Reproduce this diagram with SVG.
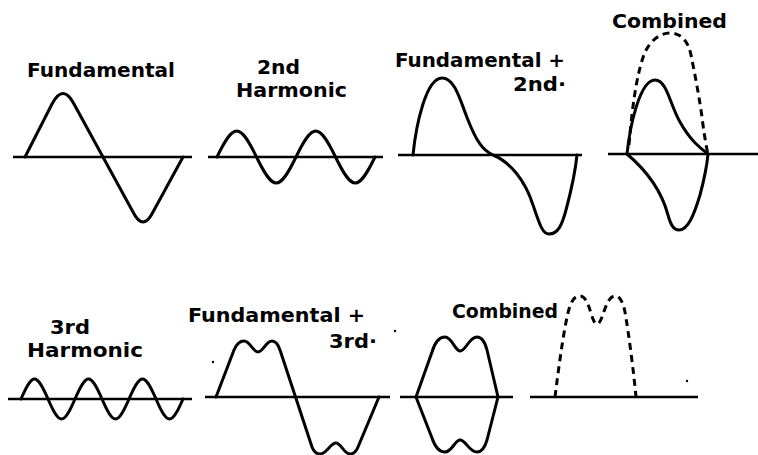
<svg xmlns="http://www.w3.org/2000/svg" width="758" height="455" viewBox="0 0 758 455">
<style>
.ax{stroke:#000;stroke-width:2.6;fill:none}
.w{stroke:#000;stroke-width:3;fill:none;stroke-linecap:round;stroke-linejoin:round}
.d{stroke:#000;stroke-width:3;fill:none;stroke-dasharray:7 5}
.t{font-family:"DejaVu Sans","Liberation Sans",sans-serif;font-weight:bold;font-size:19px;fill:#000}
</style>
<rect width="758" height="455" fill="#fff"/>
<g id="fundamental">
<text class="t" x="27" y="77" textLength="148" lengthAdjust="spacingAndGlyphs">Fundamental</text>
<line class="ax" x1="13" y1="157" x2="192" y2="157"/>
<path class="w" d="M25,157 L52,104 Q63,83 74,104 L133,212 Q143,232 153,212 L183,157"/>
</g>
<g id="second-harmonic">
<text class="t" x="257" y="74" textLength="43" lengthAdjust="spacingAndGlyphs">2nd</text>
<text class="t" x="236" y="97" textLength="111" lengthAdjust="spacingAndGlyphs">Harmonic</text>
<line class="ax" x1="208" y1="157" x2="383" y2="157"/>
<path class="w" d="M217,157 C233.8,122.3 239.7,122.3 256.5,157 C273.3,191.7 279.2,191.7 296,157 C312.8,122.3 318.7,122.3 335.5,157 C352.3,191.7 358.2,191.7 375,157"/>
</g>
<g id="fund-plus-2nd">
<text class="t" x="395" y="67" textLength="170" lengthAdjust="spacingAndGlyphs">Fundamental +</text>
<text class="t" x="513" y="91" textLength="53" lengthAdjust="spacingAndGlyphs">2nd·</text>
<line class="ax" x1="398" y1="155" x2="582" y2="155"/>
<path class="w" d="M413,155 C416,125 426,78 442,78 C455,78 460,100 468,120 C476,140 482,150 493,155 C510,162 525,180 533,205 C539,222 542,234 549,234 C558,234 562,225 566,210 C570,195 575,175 577,155"/>
</g>
<g id="combined-2nd">
<text class="t" x="612" y="28" textLength="115" lengthAdjust="spacingAndGlyphs">Combined</text>
<line class="ax" x1="608" y1="154" x2="758" y2="154"/>
<path class="w" d="M627,154 C630,125 640,80 655,80 C667,80 670,105 680,122 C690,140 700,148 708,154"/>
<path class="w" d="M627,154 C640,165 660,185 668,215 C671,226 674,230 679,230 C688,230 694,215 700,195 C704,180 707,165 708,154"/>
<path class="d" d="M629,145 C632,110 636,75 645,52 C652,38 662,33 670,33 C680,33 688,40 691,55 C695,75 700,100 703,125 C705,140 707,150 708,154"/>
</g>
<g id="third-harmonic">
<text class="t" x="50" y="334" textLength="40" lengthAdjust="spacingAndGlyphs">3rd</text>
<text class="t" x="27" y="357" textLength="116" lengthAdjust="spacingAndGlyphs">Harmonic</text>
<line class="ax" x1="8" y1="399" x2="192" y2="399"/>
<path class="w" d="M21,399 C32.5,372.3 36.5,372.3 48,399 C59.5,425.7 63.5,425.7 75,399 C86.5,372.3 90.5,372.3 102,399 C113.5,425.7 117.5,425.7 129,399 C140.5,372.3 144.5,372.3 156,399 C167.5,425.7 171.5,425.7 183,399"/>
</g>
<g id="fund-plus-3rd">
<text class="t" x="188" y="322" textLength="177" lengthAdjust="spacingAndGlyphs">Fundamental +</text>
<text class="t" x="329" y="348" textLength="48" lengthAdjust="spacingAndGlyphs">3rd·</text>
<circle cx="213" cy="362" r="1.2" fill="#000"/>
<circle cx="395" cy="331" r="1.2" fill="#000"/>
<line class="ax" x1="205" y1="397" x2="390" y2="397"/>
<path class="w" d="M216,397 L234,350 C237,343 240,341 244,341 C250,341 253,352 258,352 C263,352 266,341 272,341 C276,341 278,344 280,350 L312,447 C314,452 317,454 320,454 C327,454 330,443 336,443 C341,443 344,454 350,454 C354,454 356,452 358,447 L379,397"/>
</g>
<g id="combined-3rd">
<text class="t" x="452" y="318" textLength="106" lengthAdjust="spacingAndGlyphs">Combined</text>
<line class="ax" x1="400" y1="397" x2="513" y2="397"/>
<path class="w" d="M416,397 L432,352 C435,342 439,337 445,337 C452,337 455,351 460,351 C466,351 469,337 477,337 C482,337 485,342 487,350 L498,397"/>
<path class="w" d="M416,397 L432,438 C435,447 439,452 445,452 C452,452 455,440 460,440 C466,440 469,452 477,452 C482,452 485,447 487,440 L498,397"/>
</g>
<g id="combined-3rd-dashed">
<line class="ax" x1="530" y1="397" x2="698" y2="397"/>
<path class="d" d="M555,397 C559,365 565,320 570,306 C573,298 576,296 580,296 C590,296 591,324 597,324 C603,324 605,296 615,296 C620,296 623,302 625,312 C629,335 634,375 636,397"/>
<circle cx="687" cy="381" r="1.2" fill="#000"/>
</g>
</svg>
